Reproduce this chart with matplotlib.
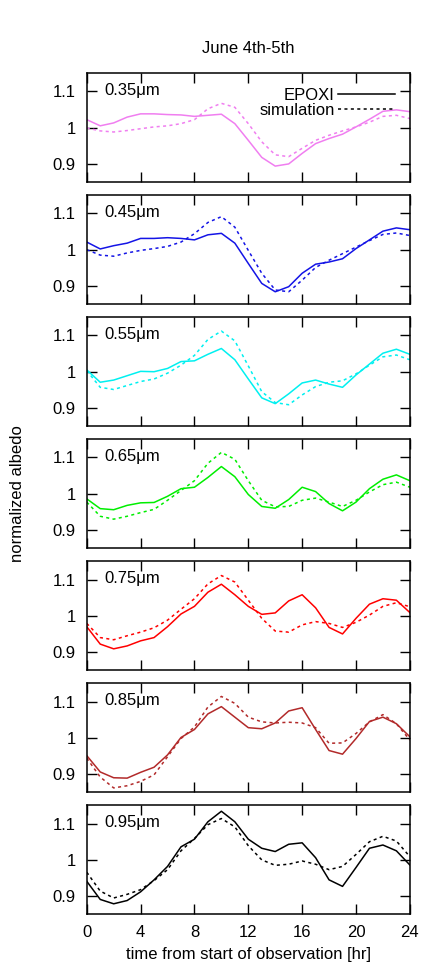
import matplotlib
matplotlib.use("Agg")
import matplotlib.pyplot as plt

plt.rcParams['font.family'] = ['Liberation Sans', 'DejaVu Sans']

hours = list(range(25))
wavelengths = ['0.35', '0.45', '0.55', '0.65', '0.75', '0.85', '0.95']
colors = ['#f07ef0', '#1414e6', '#00f0f0', '#00ee00', '#ff0000', '#b22a2a', '#000000']

epoxi_035 = [1.022, 1.005, 1.013, 1.029, 1.038, 1.038, 1.036, 1.035, 1.031, 1.034, 1.037, 1.011, 0.965,
             0.918, 0.894, 0.900, 0.929, 0.956, 0.970, 0.982, 1.002, 1.023, 1.045, 1.049, 1.044]
sim_035 = [0.999, 0.991, 0.988, 0.992, 0.997, 1.002, 1.005, 1.011, 1.022, 1.052, 1.067, 1.056, 1.011,
           0.961, 0.925, 0.920, 0.943, 0.965, 0.979, 0.991, 1.002, 1.015, 1.031, 1.034, 1.025]

epoxi_045 = [1.021, 1.002, 1.011, 1.018, 1.031, 1.031, 1.033, 1.031, 1.027, 1.041, 1.045, 1.018, 0.962,
             0.907, 0.884, 0.898, 0.935, 0.960, 0.966, 0.975, 1.003, 1.027, 1.051, 1.060, 1.055]
sim_045 = [1.000, 0.985, 0.982, 0.991, 0.998, 1.003, 1.009, 1.021, 1.044, 1.075, 1.091, 1.062, 0.998,
           0.935, 0.889, 0.884, 0.916, 0.951, 0.971, 0.989, 1.007, 1.025, 1.042, 1.046, 1.039]

epoxi_055 = [1.005, 0.971, 0.977, 0.989, 1.001, 1.000, 1.009, 1.028, 1.030, 1.048, 1.064, 1.033, 0.980,
             0.928, 0.912, 0.939, 0.969, 0.977, 0.966, 0.957, 0.991, 1.021, 1.051, 1.062, 1.048]
sim_055 = [1.003, 0.957, 0.951, 0.962, 0.973, 0.980, 0.996, 1.018, 1.045, 1.089, 1.112, 1.085, 1.016,
           0.945, 0.915, 0.909, 0.936, 0.959, 0.971, 0.975, 0.994, 1.018, 1.041, 1.046, 1.033]

epoxi_065 = [0.986, 0.959, 0.956, 0.968, 0.975, 0.976, 0.993, 1.014, 1.018, 1.045, 1.075, 1.047, 0.998,
             0.965, 0.960, 0.984, 1.018, 1.006, 0.973, 0.953, 0.977, 1.014, 1.040, 1.052, 1.036]
sim_065 = [0.977, 0.938, 0.930, 0.938, 0.948, 0.957, 0.982, 1.009, 1.036, 1.084, 1.114, 1.095, 1.036,
           0.982, 0.964, 0.965, 0.982, 0.988, 0.977, 0.965, 0.982, 1.005, 1.025, 1.032, 1.018]

epoxi_075 = [0.970, 0.922, 0.909, 0.917, 0.931, 0.940, 0.970, 1.005, 1.026, 1.065, 1.087, 1.058, 1.026,
             1.004, 1.008, 1.041, 1.058, 1.022, 0.968, 0.950, 0.993, 1.032, 1.047, 1.043, 1.009]
sim_075 = [0.979, 0.940, 0.934, 0.945, 0.955, 0.967, 0.988, 1.018, 1.047, 1.088, 1.111, 1.093, 1.043,
           0.993, 0.958, 0.955, 0.975, 0.984, 0.979, 0.968, 0.982, 1.002, 1.026, 1.036, 1.025]

epoxi_085 = [0.951, 0.906, 0.890, 0.889, 0.905, 0.919, 0.953, 1.001, 1.023, 1.066, 1.086, 1.057, 1.028,
             1.025, 1.041, 1.074, 1.083, 1.023, 0.965, 0.955, 0.998, 1.045, 1.057, 1.039, 1.003]
sim_085 = [0.944, 0.892, 0.862, 0.868, 0.880, 0.898, 0.948, 0.998, 1.030, 1.085, 1.114, 1.095, 1.057,
           1.044, 1.041, 1.043, 1.041, 1.028, 0.985, 0.986, 1.012, 1.044, 1.064, 1.039, 0.994]

epoxi_095 = [0.941, 0.891, 0.879, 0.888, 0.912, 0.945, 0.982, 1.036, 1.057, 1.105, 1.134, 1.105, 1.057,
             1.032, 1.023, 1.043, 1.047, 1.006, 0.945, 0.927, 0.979, 1.032, 1.041, 1.025, 0.986]
sim_095 = [0.966, 0.914, 0.895, 0.905, 0.918, 0.943, 0.973, 1.025, 1.059, 1.097, 1.114, 1.091, 1.039,
           1.000, 0.985, 0.988, 0.997, 0.988, 0.973, 0.982, 1.015, 1.050, 1.065, 1.052, 1.009]

epoxi = [epoxi_035, epoxi_045, epoxi_055, epoxi_065, epoxi_075, epoxi_085, epoxi_095]
sims = [sim_035, sim_045, sim_055, sim_065, sim_075, sim_085, sim_095]

fig, axes = plt.subplots(7, 1, figsize=(4.36, 9.76), dpi=100, sharex=True)
fig.subplots_adjust(left=0.199, right=0.940, top=0.925, bottom=0.0632, hspace=0.121)

for i, ax in enumerate(axes):
    ax.plot(hours, epoxi[i], color=colors[i], lw=1.1, label='EPOXI')
    ax.plot(hours, sims[i], color=colors[i], lw=1.1, dashes=(2, 2.2), label='simulation')
    ax.set_xlim(0, 24)
    ax.set_ylim(0.85, 1.15)
    ax.set_xticks(range(0, 25, 4))
    ax.set_yticks([0.9, 1.0, 1.1])
    ax.set_yticklabels(['0.9', '1', '1.1'])
    ax.tick_params(direction='in', length=7, width=1, top=True, right=True, labelsize=12, pad=8)
    for s in ax.spines.values():
        s.set_linewidth(1.1)
    ax.text(0.053, 0.843, wavelengths[i] + '\u03bcm', transform=ax.transAxes,
            fontsize=12, ha='left', va='center')

# gnuplot-style legend on the top panel, black samples after the labels
h_solid, = axes[0].plot([], [], color='black', lw=1.1)
h_dot, = axes[0].plot([], [], color='black', lw=1.1, dashes=(2, 2.2))
axes[0].legend([h_solid, h_dot], ['EPOXI', 'simulation'], loc='upper right', frameon=False,
               markerfirst=False, fontsize=12, handlelength=3.4, handletextpad=0.2,
               labelspacing=0.0, borderaxespad=0.6, borderpad=0.3)

fig.text(0.569, 0.9505, 'June 4th-5th', ha='center', va='center', fontsize=12)
fig.text(0.041, 0.494, 'normalized albedo', rotation=90, ha='center', va='center', fontsize=12)
axes[-1].set_xlabel('time from start of observation [hr]', fontsize=12, labelpad=5)

fig.savefig('out.png', dpi=100)
